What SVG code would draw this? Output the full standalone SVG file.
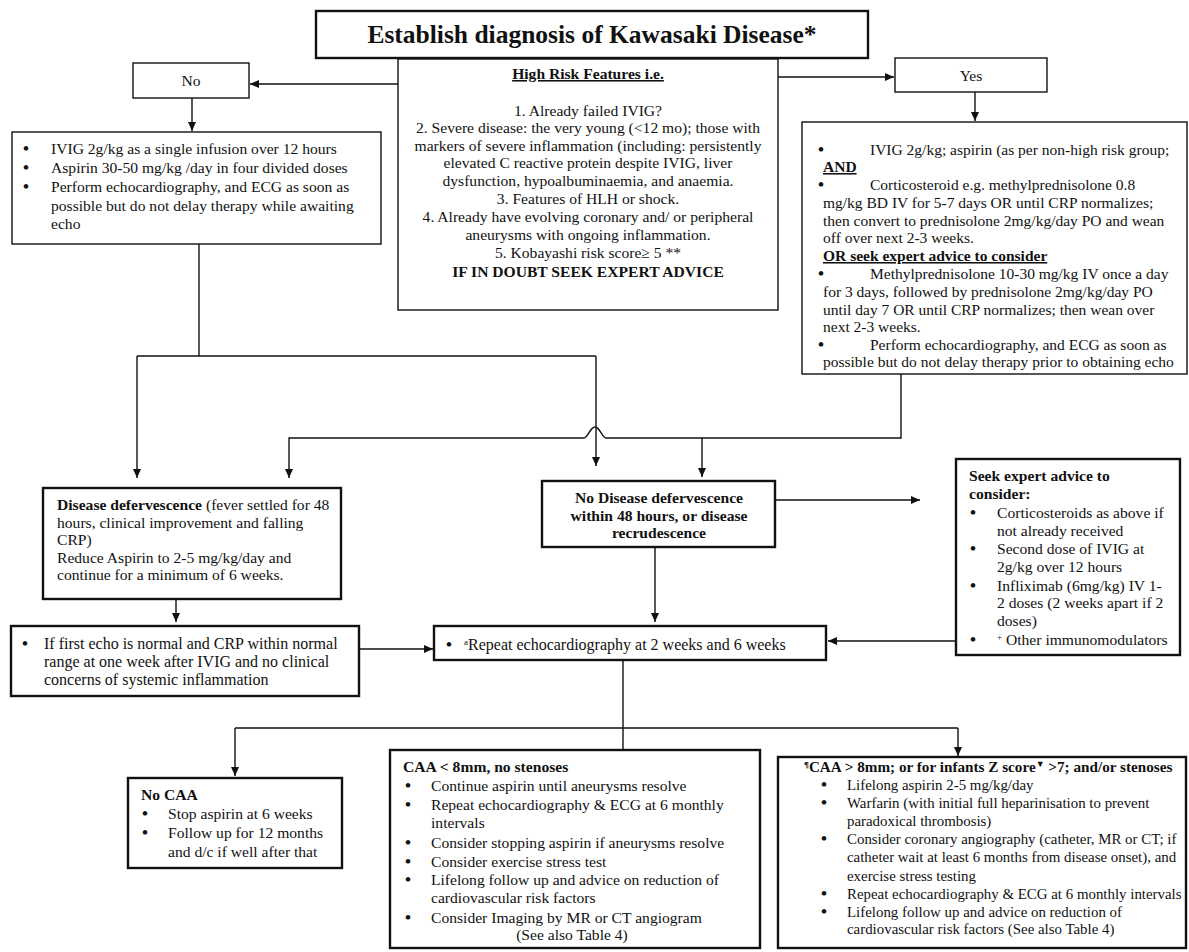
<svg xmlns="http://www.w3.org/2000/svg" width="1189" height="952" viewBox="0 0 1189 952">
<style>
.box{fill:#fff;stroke:#111;stroke-width:1.4}
.bx2{fill:#fff;stroke:#111;stroke-width:2.4}
.t{font-family:"Liberation Serif","Times New Roman",serif;font-size:15.6px;fill:#111}
.r{font-size:16px}
.rb{font-size:15.5px}
.s{font-size:14.9px}
.b{font-weight:bold}
.c{text-anchor:middle}
.u{text-decoration:underline}
.bl{font-weight:bold;font-size:17px}
.ln{fill:none;stroke:#111;stroke-width:1.4}
.sup{font-size:9px}
</style>
<defs>
<marker id="ah" markerWidth="10" markerHeight="10" refX="9" refY="5" orient="auto" markerUnits="userSpaceOnUse">
<path d="M0,1 L9,5 L0,9 Z" fill="#111"/>
</marker>
</defs>
<rect width="1189" height="952" fill="#fff"/>

<g id="connectors">
<path class="ln" d="M192 98 V131" marker-end="url(#ah)"/>
<path class="ln" d="M398 84 H250" marker-end="url(#ah)"/>
<path class="ln" d="M778 77 H894" marker-end="url(#ah)"/>
<path class="ln" d="M975 92 V121" marker-end="url(#ah)"/>
<path class="ln" d="M199 244 V356"/>
<path class="ln" d="M137 356 H596"/>
<path class="ln" d="M137 356 V478" marker-end="url(#ah)"/>
<path class="ln" d="M596 356 V466" marker-end="url(#ah)"/>
<path class="ln" d="M901 374 V438 H606 C602 438 600 427 595 427 C590 427 588 438 584 438 H289 V478" marker-end="url(#ah)"/>
<path class="ln" d="M702 438 V477" marker-end="url(#ah)"/>
<path class="ln" d="M775 500 H920" marker-end="url(#ah)"/>
<path class="ln" d="M176 599 V622" marker-end="url(#ah)"/>
<path class="ln" d="M655 547 V622" marker-end="url(#ah)"/>
<path class="ln" d="M359 649 H433" marker-end="url(#ah)"/>
<path class="ln" d="M956 641 H828" marker-end="url(#ah)"/>
<path class="ln" d="M623 660 V749"/>
<path class="ln" d="M235 728 H958"/>
<path class="ln" d="M235 728 V776" marker-end="url(#ah)"/>
<path class="ln" d="M958 728 V756" marker-end="url(#ah)"/>
</g>

<g id="title">
<rect class="bx2" x="316" y="11" width="552" height="47"/>
<text class="t b c" x="592" y="43" style="font-size:25.5px">Establish diagnosis of Kawasaki Disease*</text>
</g>

<g id="no">
<rect class="box" x="133" y="63" width="116" height="35"/>
<text class="t c" x="191" y="86">No</text>
</g>

<g id="yes">
<rect class="box" x="895" y="58" width="152" height="34"/>
<text class="t c" x="971" y="81">Yes</text>
</g>

<g id="highrisk">
<rect class="box" x="398" y="59" width="380" height="251"/>
<text class="t b c u" x="588" y="79">High Risk Features i.e.</text>
<text class="t c" x="588" y="116">1. Already failed IVIG?</text>
<text class="t c" x="588" y="133">2. Severe disease: the very young (&lt;12 mo); those with</text>
<text class="t c" x="588" y="151">markers of severe inflammation (including: persistently</text>
<text class="t c" x="588" y="168">elevated C reactive protein despite IVIG, liver</text>
<text class="t c" x="588" y="186">dysfunction, hypoalbuminaemia, and anaemia.</text>
<text class="t c" x="588" y="204">3. Features of HLH or shock.</text>
<text class="t c" x="588" y="222">4. Already have evolving coronary and/ or peripheral</text>
<text class="t c" x="588" y="240">aneurysms with ongoing inflammation.</text>
<text class="t c" x="588" y="258">5. Kobayashi risk score≥ 5 **</text>
<text class="t b c" x="588" y="277">IF IN DOUBT SEEK EXPERT ADVICE</text>
</g>

<g id="lowrisk">
<rect class="box" x="12" y="132" width="369" height="112"/>
<text class="t bl" x="23" y="154">•</text><text class="t" x="51" y="154">IVIG 2g/kg as a single infusion over 12 hours</text>
<text class="t bl" x="23" y="173">•</text><text class="t" x="51" y="173">Aspirin 30-50 mg/kg /day in four divided doses</text>
<text class="t bl" x="23" y="192">•</text><text class="t" x="51" y="192">Perform echocardiography, and ECG as soon as</text>
<text class="t" x="51" y="211">possible but do not delay therapy while awaiting</text>
<text class="t" x="51" y="229">echo</text>
</g>

<g id="highrisktx">
<rect class="box" x="802" y="122" width="385" height="252"/>
<text class="t bl" x="818" y="155">•</text><text class="t rb" x="870" y="155">IVIG 2g/kg; aspirin (as per non-high risk group;</text>
<text class="t rb b u" x="823" y="172">AND</text>
<text class="t bl" x="818" y="190">•</text><text class="t rb" x="870" y="190">Corticosteroid e.g. methylprednisolone 0.8</text>
<text class="t rb" x="823" y="208">mg/kg BD IV for 5-7 days OR until CRP normalizes;</text>
<text class="t rb" x="823" y="226">then convert to prednisolone 2mg/kg/day PO and wean</text>
<text class="t rb" x="823" y="243">off over next 2-3 weeks.</text>
<text class="t rb b u" x="823" y="261">OR seek expert advice to consider</text>
<text class="t bl" x="818" y="279">•</text><text class="t rb" x="870" y="279">Methylprednisolone 10-30 mg/kg IV once a day</text>
<text class="t rb" x="823" y="297">for 3 days, followed by  prednisolone 2mg/kg/day PO</text>
<text class="t rb" x="823" y="315">until day 7 OR until CRP normalizes; then wean over</text>
<text class="t rb" x="823" y="332">next 2-3 weeks.</text>
<text class="t bl" x="818" y="350">•</text><text class="t rb" x="870" y="350">Perform echocardiography, and ECG as soon as</text>
<text class="t rb" x="823" y="367">possible but do not delay therapy prior to obtaining echo</text>
</g>

<g id="defervescence">
<rect class="bx2" x="43" y="488" width="298" height="111"/>
<text class="t" x="57" y="510"><tspan class="b">Disease defervescence</tspan> (fever settled for 48</text>
<text class="t" x="57" y="528">hours, clinical improvement and falling</text>
<text class="t" x="57" y="545">CRP)</text>
<text class="t" x="57" y="563">Reduce Aspirin to 2-5 mg/kg/day and</text>
<text class="t" x="57" y="580">continue for a minimum of 6 weeks.</text>
</g>

<g id="nodefervescence">
<rect class="bx2" x="542" y="481" width="233" height="66"/>
<text class="t b c" x="659" y="503">No Disease defervescence</text>
<text class="t b c" x="659" y="521">within 48 hours, or disease</text>
<text class="t b c" x="659" y="538">recrudescence</text>
</g>

<g id="seekexpert">
<rect class="bx2" x="956" y="459" width="224" height="196"/>
<text class="t b" x="969" y="481">Seek expert advice to</text>
<text class="t b" x="969" y="499">consider:</text>
<text class="t bl" x="970" y="518">•</text><text class="t" x="997" y="518">Corticosteroids as above if</text>
<text class="t" x="997" y="536">not already received</text>
<text class="t bl" x="970" y="554">•</text><text class="t" x="997" y="554">Second dose of IVIG at</text>
<text class="t" x="997" y="572">2g/kg over 12 hours</text>
<text class="t bl" x="970" y="591">•</text><text class="t" x="997" y="591">Infliximab (6mg/kg) IV 1-</text>
<text class="t" x="997" y="608">2 doses (2 weeks apart if 2</text>
<text class="t" x="997" y="626">doses)</text>
<text class="t bl" x="970" y="645">•</text><text class="t" x="997" y="645"><tspan class="sup" dy="-5">+</tspan><tspan dy="5"> Other immunomodulators</tspan></text>
</g>

<g id="firstecho">
<rect class="bx2" x="11" y="626" width="348" height="70"/>
<text class="t bl" x="22" y="649">•</text><text class="t r" x="44" y="649">If first echo is normal and CRP within normal</text>
<text class="t r" x="44" y="667">range at one week after IVIG and no clinical</text>
<text class="t r" x="44" y="685">concerns of systemic inflammation</text>
</g>

<g id="repeatecho">
<rect class="bx2" x="434" y="626" width="392" height="34"/>
<text class="t bl" x="446" y="650">•</text><text class="t r" x="464" y="650"><tspan class="sup" dy="-5">a</tspan><tspan dy="5">Repeat echocardiography at 2 weeks and 6 weeks</tspan></text>
</g>

<g id="nocaa">
<rect class="bx2" x="128" y="778" width="214" height="90"/>
<text class="t b" x="141" y="800">No CAA</text>
<text class="t bl" x="142" y="819">•</text><text class="t" x="168" y="819">Stop aspirin at 6 weeks</text>
<text class="t bl" x="142" y="838">•</text><text class="t" x="168" y="838">Follow up for 12 months</text>
<text class="t" x="168" y="857">and d/c  if well after  that</text>
</g>

<g id="caasmall">
<rect class="bx2" x="390" y="750" width="370" height="198"/>
<text class="t b" x="403" y="772">CAA &lt; 8mm, no stenoses</text>
<text class="t bl" x="405" y="791">•</text><text class="t" x="431" y="791">Continue aspirin until aneurysms resolve</text>
<text class="t bl" x="405" y="810">•</text><text class="t" x="431" y="810">Repeat echocardiography &amp; ECG at 6 monthly</text>
<text class="t" x="431" y="828">intervals</text>
<text class="t bl" x="405" y="848">•</text><text class="t" x="431" y="848">Consider stopping aspirin if aneurysms resolve</text>
<text class="t bl" x="405" y="867">•</text><text class="t" x="431" y="867">Consider exercise stress test</text>
<text class="t bl" x="405" y="885">•</text><text class="t" x="431" y="885">Lifelong follow up and advice on reduction of</text>
<text class="t" x="431" y="903">cardiovascular risk factors</text>
<text class="t bl" x="405" y="923">•</text><text class="t" x="431" y="923">Consider Imaging by MR or CT angiogram</text>
<text class="t c" x="572" y="940">(See also Table 4)</text>
</g>

<g id="caalarge">
<rect class="bx2" x="778" y="757" width="408" height="191"/>
<text class="t b" x="804" y="772" style="font-size:15.2px"><tspan class="sup" dy="-4">¶</tspan><tspan dy="4">CAA &gt; 8mm; or for infants Z score</tspan><tspan class="sup" dy="-5">▼</tspan><tspan dy="5"> &gt;7; and/or stenoses</tspan></text>
<text class="t bl" x="821" y="790">•</text><text class="t s" x="847" y="790">Lifelong aspirin 2-5 mg/kg/day</text>
<text class="t bl" x="821" y="808">•</text><text class="t s" x="847" y="808">Warfarin (with initial full heparinisation to prevent</text>
<text class="t s" x="847" y="826">paradoxical thrombosis)</text>
<text class="t bl" x="821" y="844">•</text><text class="t s" x="847" y="844">Consider coronary angiography (catheter, MR or CT; if</text>
<text class="t s" x="847" y="862">catheter wait at least 6 months from disease onset), and</text>
<text class="t s" x="847" y="881">exercise stress testing</text>
<text class="t bl" x="821" y="899">•</text><text class="t s" x="847" y="899">Repeat echocardiography &amp; ECG at 6 monthly intervals</text>
<text class="t bl" x="821" y="917">•</text><text class="t s" x="847" y="917">Lifelong follow up and advice on reduction of</text>
<text class="t s" x="847" y="934">cardiovascular risk factors (See also Table 4)</text>
</g>
</svg>
